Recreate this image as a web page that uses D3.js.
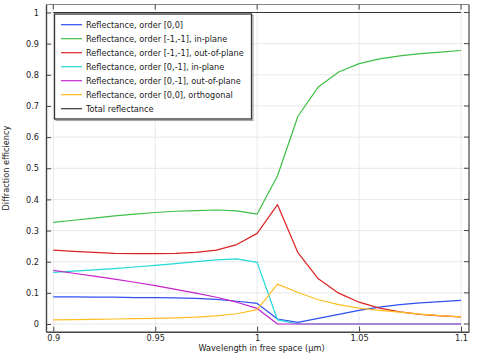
<!DOCTYPE html>
<html><head><meta charset="utf-8">
<script src="https://cdn.jsdelivr.net/npm/d3@7"></script>
<style>body{margin:0;background:#fff}svg{display:block}text{font-family:"DejaVu Sans",sans-serif;fill:#222}</style>
</head><body><svg id="c" width="482" height="363"></svg>
<script>
const wavelength = [0.90,0.91,0.92,0.93,0.94,0.95,0.96,0.97,0.98,0.99,1.00,1.01,1.02,1.03,1.04,1.05,1.06,1.07,1.08,1.09,1.10];
const r00      = [0.087,0.087,0.086,0.086,0.085,0.085,0.084,0.082,0.079,0.073,0.066,0.016,0.005,0.018,0.031,0.044,0.054,0.062,0.068,0.072,0.076];
const rm1m1In  = [0.326,0.333,0.340,0.347,0.353,0.358,0.362,0.364,0.366,0.363,0.353,0.476,0.667,0.761,0.809,0.836,0.851,0.861,0.868,0.873,0.878];
const rm1m1Out = [0.237,0.233,0.230,0.227,0.226,0.226,0.227,0.230,0.237,0.255,0.291,0.383,0.229,0.145,0.099,0.070,0.051,0.039,0.031,0.026,0.023];
const r0m1In   = [0.166,0.170,0.174,0.178,0.183,0.188,0.194,0.200,0.206,0.209,0.198,0.013,0,0,0,0,0,0,0,0,0];
const r0m1Out  = [0.172,0.163,0.154,0.144,0.134,0.123,0.111,0.099,0.086,0.070,0.050,0,0,0,0,0,0,0,0,0,0];
const r00orth  = [0.013,0.014,0.015,0.016,0.017,0.018,0.020,0.022,0.026,0.033,0.046,0.128,0.101,0.078,0.062,0.051,0.044,0.038,0.032,0.027,0.023];
const rTotal   = [1,1,1,1,1,1,1,1,1,1,1,1,1,1,1,1,1,1,1,1,1];
const seriesNames = ["Reflectance, order [0,0]","Reflectance, order [-1,-1], in-plane","Reflectance, order [-1,-1], out-of-plane","Reflectance, order [0,-1], in-plane","Reflectance, order [0,-1], out-of-plane","Reflectance, order [0,0], orthogonal","Total reflectance"];
const xTicks = [0.9,0.95,1,1.05,1.1];
const yTicks = [0,0.1,0.2,0.3,0.4,0.5,0.6,0.7,0.8,0.9,1];

const seriesData = [r00,rm1m1In,rm1m1Out,r0m1In,r0m1Out,r00orth,rTotal];
const colors = ["#2f4ff2","#3fbf45","#dd2222","#22d8d8","#c424cc","#ffbe22","#333333"];

const svg = d3.select("#c");
const L=46,R=469,T=4.5,B=331.7;
const x = d3.scaleLinear().domain([0.89642,1.10392]).range([L,R]);
const y = d3.scaleLinear().domain([-0.0247,1.0257]).range([B,T]);

// grid
svg.append("g").selectAll("line").data(xTicks).join("line")
  .attr("x1",d=>x(d)).attr("x2",d=>x(d)).attr("y1",T).attr("y2",B)
  .attr("stroke","#e8e8e8").attr("stroke-width",1);
svg.append("g").selectAll("line").data(yTicks).join("line")
  .attr("y1",d=>y(d)).attr("y2",d=>y(d)).attr("x1",L).attr("x2",R)
  .attr("stroke","#e8e8e8").attr("stroke-width",1);

// frame top/right
svg.append("line").attr("x1",L).attr("x2",R).attr("y1",T).attr("y2",T).attr("stroke","#888").attr("stroke-width",1);
svg.append("line").attr("x1",R).attr("x2",R).attr("y1",T).attr("y2",B).attr("stroke","#444").attr("stroke-width",1.2);

// axes
const fmt = d=>String(+d.toFixed(2));
const xAxis = d3.axisBottom(x).tickValues(xTicks).tickFormat(fmt).tickSizeInner(-5).tickSizeOuter(0).tickPadding(3);
const gx = svg.append("g").attr("transform",`translate(0,${B})`).call(xAxis);
const yAxis = d3.axisLeft(y).tickValues(yTicks).tickFormat(fmt).tickSizeInner(-5).tickSizeOuter(0).tickPadding(7);
const gy = svg.append("g").attr("transform",`translate(${L},0)`).call(yAxis);
[gx,gy].forEach(g=>{
  g.select(".domain").attr("stroke","#444").attr("stroke-width",1.4);
  g.selectAll(".tick line").attr("stroke","#444");
  g.selectAll(".tick text").attr("font-size",8.2).attr("fill","#222").style("font-family","DejaVu Sans");
});
// top / right ticks
svg.append("g").selectAll("line").data(xTicks).join("line")
  .attr("x1",d=>x(d)).attr("x2",d=>x(d)).attr("y1",T).attr("y2",T+5).attr("stroke","#444");
svg.append("g").selectAll("line").data(yTicks).join("line")
  .attr("y1",d=>y(d)).attr("y2",d=>y(d)).attr("x1",R).attr("x2",R-5).attr("stroke","#444");

// lines
const line = d3.line().x((d,i)=>x(wavelength[i])).y(d=>y(d));
const order = [0,1,2,3,4,5,6];
svg.append("g").selectAll("path").data(order).join("path")
  .attr("d",i=>line(seriesData[i])).attr("fill","none")
  .attr("stroke",i=>colors[i]).attr("stroke-width",1.2).attr("stroke-linejoin","round");

// axis titles
svg.append("text").attr("x",(L+R)/2+4).attr("y",350.5).attr("text-anchor","middle").attr("font-size",8.2).text("Wavelength in free space (µm)");
svg.append("text").attr("transform",`translate(8.5,${(T+B)/2}) rotate(-90)`).attr("text-anchor","middle").attr("font-size",8.2).text("Diffraction efficiency");

// legend
const lx=54.5, ly=14, lw=197, lh=105;
svg.append("rect").attr("x",lx+1.5).attr("y",ly+1.5).attr("width",lw).attr("height",lh).attr("fill","none").attr("stroke","#aaa").attr("stroke-width",1.2);
svg.append("rect").attr("x",lx).attr("y",ly).attr("width",lw).attr("height",lh).attr("fill","#fff").attr("stroke","#333").attr("stroke-width",1.3);
const lg = svg.append("g").selectAll("g").data(seriesNames).join("g")
  .attr("transform",(d,i)=>`translate(0,${ly+10.7+i*14})`);
lg.append("line").attr("x1",61).attr("x2",82).attr("stroke",(d,i)=>colors[i]).attr("stroke-width",1.2);
lg.append("text").attr("x",86).attr("dy","0.35em").attr("font-size",8.2).text(d=>d);
</script></body></html>
